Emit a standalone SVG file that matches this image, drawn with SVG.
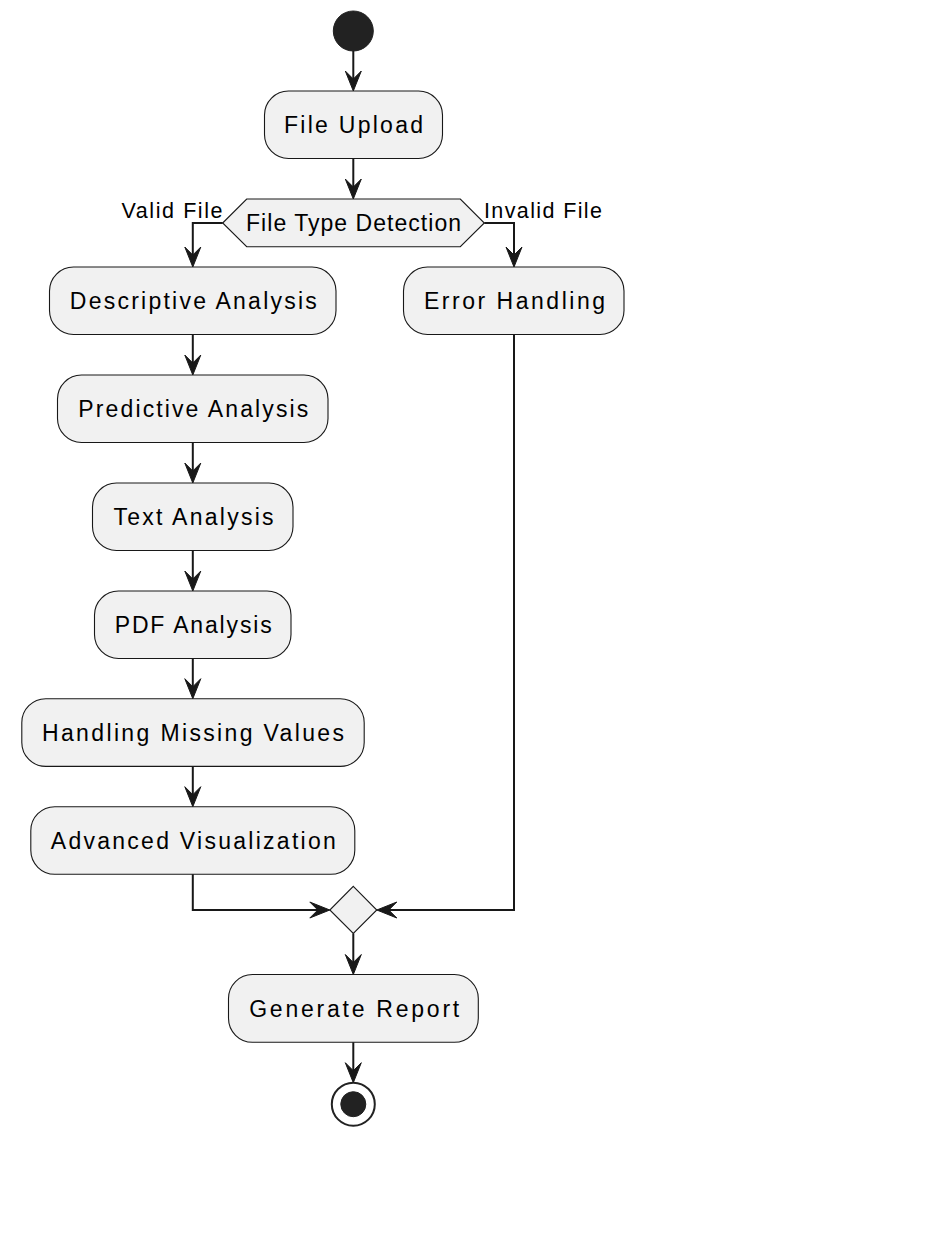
<svg xmlns="http://www.w3.org/2000/svg" width="938" height="1238" viewBox="0 0 938 1238">
<style>
.box{fill:#F1F1F1;stroke:#181818;stroke-width:1.1}
.t{font-family:"Liberation Sans",Arial,sans-serif;font-size:23px;fill:#000;text-anchor:middle}
.lbl{font-family:"Liberation Sans",Arial,sans-serif;font-size:21.5px;fill:#000}
.ln{fill:none;stroke:#181818;stroke-width:2}
.ah{fill:#181818;stroke:#181818;stroke-width:1}
</style>
<rect width="938" height="1238" fill="#FFFFFF"/>
<g id="start"><circle cx="353.3" cy="31" r="20" fill="#222222" stroke="#222222" stroke-width="1"/></g>
<g id="file-upload"><rect class="box" x="264.5" y="91" width="178" height="67.5" rx="24" ry="24"/><text class="t" x="353.5" y="133" textLength="139" lengthAdjust="spacing">File Upload</text></g>
<g id="file-type-detection"><polygon class="box" points="222.7,223 246.7,199 460.3,199 484.3,223 460.3,246.7 246.7,246.7"/><text class="t" x="353.5" y="231" textLength="215" lengthAdjust="spacing">File Type Detection</text></g>
<g id="descriptive-analysis"><rect class="box" x="49.5" y="267" width="286.5" height="67.5" rx="24" ry="24"/><text class="t" x="193.3" y="309" textLength="247" lengthAdjust="spacing">Descriptive Analysis</text></g>
<g id="error-handling"><rect class="box" x="403.5" y="267" width="220.5" height="67.5" rx="24" ry="24"/><text class="t" x="514.5" y="309" textLength="181" lengthAdjust="spacing">Error Handling</text></g>
<g id="predictive-analysis"><rect class="box" x="57.5" y="375" width="270.5" height="67.5" rx="24" ry="24"/><text class="t" x="193.3" y="417" textLength="230" lengthAdjust="spacing">Predictive Analysis</text></g>
<g id="text-analysis"><rect class="box" x="92.5" y="483" width="200.5" height="67.5" rx="24" ry="24"/><text class="t" x="193.5" y="525" textLength="160" lengthAdjust="spacing">Text Analysis</text></g>
<g id="pdf-analysis"><rect class="box" x="94.5" y="591" width="196.5" height="67.5" rx="24" ry="24"/><text class="t" x="193.2" y="633" textLength="157" lengthAdjust="spacing">PDF Analysis</text></g>
<g id="handling-missing-values"><rect class="box" x="21.8" y="698.7" width="342.4" height="67.7" rx="24" ry="24"/><text class="t" x="193" y="741" textLength="302" lengthAdjust="spacing">Handling Missing Values</text></g>
<g id="advanced-visualization"><rect class="box" x="30.8" y="806.7" width="324" height="67.6" rx="24" ry="24"/><text class="t" x="193.3" y="849" textLength="285" lengthAdjust="spacing">Advanced Visualization</text></g>
<g id="merge"><polygon class="box" points="353.3,886.3 376.8,910 353.3,933.5 329.8,910"/></g>
<g id="generate-report"><rect class="box" x="228.5" y="974.5" width="249.8" height="67.8" rx="24" ry="24"/><text class="t" x="354.2" y="1017" textLength="210" lengthAdjust="spacing">Generate Report</text></g>
<g id="end"><circle cx="353.3" cy="1104.2" r="21.5" fill="none" stroke="#222222" stroke-width="2"/><circle cx="353.3" cy="1104.2" r="12.5" fill="#222222" stroke="#222222" stroke-width="1"/></g>
<g id="connectors">
<path class="ln" d="M353.3,51 V85"/><polygon class="ah" points="345.3,71 353.3,91 361.3,71 353.3,79"/>
<path class="ln" d="M353.3,158.5 V193"/><polygon class="ah" points="345.3,179 353.3,199 361.3,179 353.3,187"/>
<path class="ln" d="M222.7,223 H192.8 V261"/><polygon class="ah" points="184.8,247 192.8,267 200.8,247 192.8,255"/>
<path class="ln" d="M484.3,223 H514 V261"/><polygon class="ah" points="506,247 514,267 522,247 514,255"/>
<path class="ln" d="M192.8,334.5 V369"/><polygon class="ah" points="184.8,355 192.8,375 200.8,355 192.8,363"/>
<path class="ln" d="M192.8,442.5 V477"/><polygon class="ah" points="184.8,463 192.8,483 200.8,463 192.8,471"/>
<path class="ln" d="M192.8,550.5 V585"/><polygon class="ah" points="184.8,571 192.8,591 200.8,571 192.8,579"/>
<path class="ln" d="M192.8,658.5 V692.7"/><polygon class="ah" points="184.8,678.7 192.8,698.7 200.8,678.7 192.8,686.7"/>
<path class="ln" d="M192.8,766.4 V800.7"/><polygon class="ah" points="184.8,786.7 192.8,806.7 200.8,786.7 192.8,794.7"/>
<path class="ln" d="M192.8,874.3 V910 H323.8"/><polygon class="ah" points="329.8,910 309.8,902 317.8,910 309.8,918"/>
<path class="ln" d="M514,334.5 V910 H382.8"/><polygon class="ah" points="376.8,910 396.8,902 388.8,910 396.8,918"/>
<path class="ln" d="M353.3,933.5 V968.5"/><polygon class="ah" points="345.3,954.5 353.3,974.5 361.3,954.5 353.3,962.5"/>
<path class="ln" d="M353.3,1042.3 V1076.7"/><polygon class="ah" points="345.3,1062.7 353.3,1082.7 361.3,1062.7 353.3,1070.7"/>
<text class="lbl" x="121.5" y="218.3" textLength="101" lengthAdjust="spacing">Valid File</text>
<text class="lbl" x="484" y="218.3" textLength="118" lengthAdjust="spacing">Invalid File</text>
</g>
</svg>
